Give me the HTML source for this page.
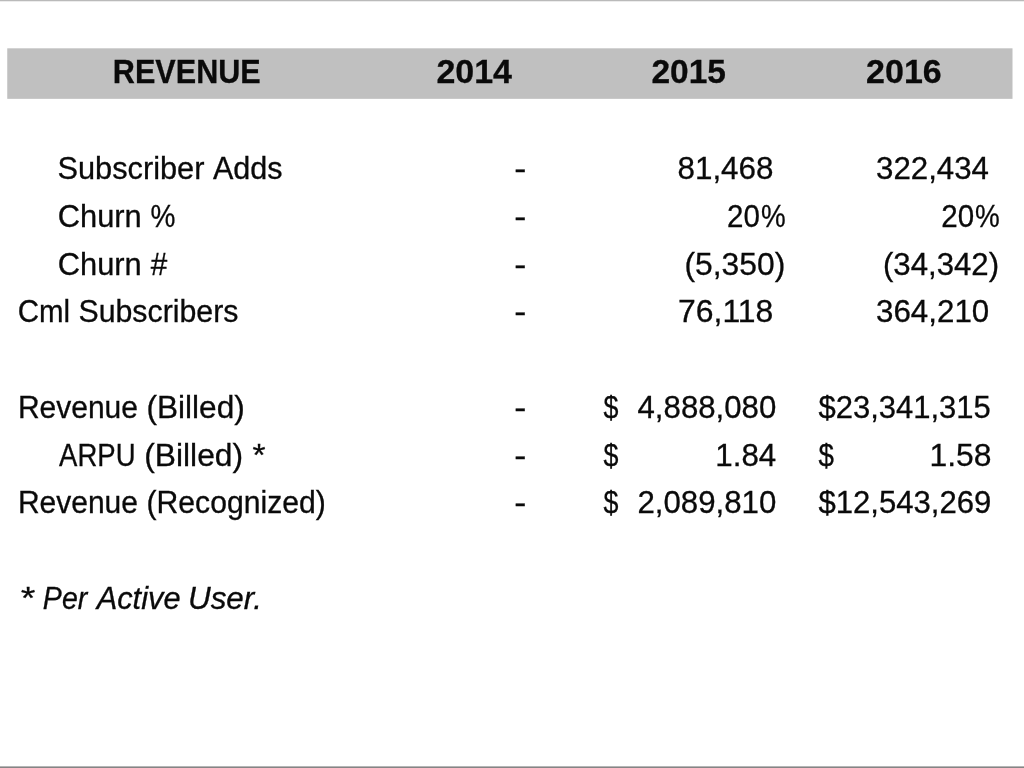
<!DOCTYPE html>
<html lang="en"><head><meta charset="utf-8"><title>Revenue</title>
<style>
html,body{margin:0;padding:0;background:#fff}
body{width:1024px;height:768px;position:relative;overflow:hidden;font-family:"Liberation Sans", sans-serif;color:#0d0d0d}
.top{position:absolute;left:0;top:0;width:1024px;height:2px;background:linear-gradient(#bababa,#bababa 50%,#ececec 50%,#ececec)}
.bot{position:absolute;left:0;top:766px;width:1024px;height:2px;background:linear-gradient(#b5b5b5,#b5b5b5 50%,#858585 50%,#858585)}
.band{position:absolute;left:0;top:0;width:1024px;height:768px}
.t{position:absolute;white-space:pre;transform-origin:0 0;color:#0a0a0a;-webkit-text-stroke:0.3px #0a0a0a}
.txt{position:absolute;left:0;top:0;width:1024px;height:768px}
.h{font:normal bold 34px/40px "Liberation Sans", sans-serif}
.l{font:normal normal 31px/40px "Liberation Sans", sans-serif}
.n{font:normal normal 31.5px/40px "Liberation Sans", sans-serif}
.i{font:italic normal 31px/40px "Liberation Sans", sans-serif}
</style></head><body>
<div class="top"></div>
<svg class="band" width="1024" height="768" viewBox="0 0 1024 768"><rect x="7.25" y="48.3" width="1005.25" height="50.55" fill="#c0c0c0"/></svg>
<div class="txt">
<span class="t h" style="left:112px;top:51px;transform:translateX(0.85px) scaleX(0.8995)">REVENUE</span>
<span class="t h" style="left:436px;top:51px;transform:translateX(0.4px) scaleX(0.9977)">2014</span>
<span class="t h" style="left:651px;top:51px;transform:translateX(0.42px) scaleX(0.9844)">2015</span>
<span class="t h" style="left:866px;top:51px;transform:translateX(0.1px) scaleX(0.9993)">2016</span>
<span class="t l" style="left:57px;top:149px;transform:translateX(0.39px) scaleX(0.9924)">Subscriber</span>
<span class="t l" style="left:212px;top:149px;transform:translateX(0.95px) scaleX(0.9852)">Adds</span>
<span class="t l" style="left:57px;top:197px;transform:translateX(0.82px) scaleX(0.994)">Churn</span>
<span class="t l" style="left:150px;top:197px;transform:translateX(0.49px) scaleX(0.903)">%</span>
<span class="t l" style="left:57px;top:245px;transform:translateX(0.82px) scaleX(0.994)">Churn</span>
<span class="t l" style="left:150px;top:245px;transform:translateX(0.82px) scaleX(0.9578)">#</span>
<span class="t l" style="left:17px;top:292px;transform:translateX(0.63px) scaleX(0.9504)">Cml</span>
<span class="t l" style="left:78px;top:292px;transform:translateX(0.41px) scaleX(0.9779)">Subscribers</span>
<span class="t l" style="left:17px;top:388px;transform:translateX(0.98px) scaleX(0.9664)">Revenue</span>
<span class="t l" style="left:146px;top:388px;transform:translateX(0.47px) scaleX(1.019)">(Billed)</span>
<span class="t l" style="left:59px;top:436px;transform:translateX(0.11px) scaleX(0.8871)">ARPU</span>
<span class="t l" style="left:144px;top:436px;transform:translateX(0.21px) scaleX(1.0244)">(Billed)</span>
<span class="t l" style="left:252px;top:436px;transform:translateX(0.51px) scaleX(1.0778)">*</span>
<span class="t l" style="left:17px;top:483px;transform:translateX(0.98px) scaleX(0.9664)">Revenue</span>
<span class="t l" style="left:146px;top:483px;transform:translateX(0.55px) scaleX(0.972)">(Recognized)</span>
<span class="t i" style="left:19px;top:579px;transform:translateX(0.3px) scaleX(1.2035)">*</span>
<span class="t i" style="left:42px;top:579px;transform:translateX(0.86px) scaleX(0.9198)">Per</span>
<span class="t i" style="left:96px;top:579px;transform:translateX(0.68px) scaleX(0.9929)">Active</span>
<span class="t i" style="left:187px;top:579px;transform:translateX(0.96px) scaleX(1.0136)">User.</span>
<span class="t n" style="left:514px;top:148px;transform:translateX(0.31px) scaleX(1.1473)">-</span>
<span class="t n" style="left:514px;top:196px;transform:translateX(0.31px) scaleX(1.1473)">-</span>
<span class="t n" style="left:514px;top:244px;transform:translateX(0.31px) scaleX(1.1473)">-</span>
<span class="t n" style="left:514px;top:291px;transform:translateX(0.31px) scaleX(1.1473)">-</span>
<span class="t n" style="left:514px;top:387px;transform:translateX(0.31px) scaleX(1.1473)">-</span>
<span class="t n" style="left:514px;top:435px;transform:translateX(0.31px) scaleX(1.1473)">-</span>
<span class="t n" style="left:514px;top:482px;transform:translateX(0.31px) scaleX(1.1473)">-</span>
<span class="t n" style="left:677px;top:148px;transform:translateX(0.5px) scaleX(0.996)">81,468</span>
<span class="t n" style="left:727px;top:196px;transform:translateX(0.11px) scaleX(0.9376)">20</span>
<span class="t n" style="left:760px;top:196px;transform:translateX(0.91px) scaleX(0.8813)">%</span>
<span class="t n" style="left:684px;top:244px;transform:translateX(0.41px) scaleX(1.0105)">(5,350)</span>
<span class="t n" style="left:678px;top:291px;transform:translateX(0.09px) scaleX(1.013)">76,118</span>
<span class="t n" style="left:876px;top:148px;transform:translateX(0.0px) scaleX(0.992)">322,434</span>
<span class="t n" style="left:941px;top:196px;transform:translateX(0.21px) scaleX(0.9376)">20</span>
<span class="t n" style="left:975px;top:196px;transform:translateX(0.01px) scaleX(0.8833)">%</span>
<span class="t n" style="left:882px;top:244px;transform:translateX(0.95px) scaleX(0.9899)">(34,342)</span>
<span class="t n" style="left:875px;top:291px;transform:translateX(0.99px) scaleX(0.9945)">364,210</span>
<span class="t n" style="left:603px;top:387px;transform:translateX(0.43px) scaleX(0.8514)">$</span>
<span class="t n" style="left:603px;top:435px;transform:translateX(0.43px) scaleX(0.8514)">$</span>
<span class="t n" style="left:603px;top:482px;transform:translateX(0.43px) scaleX(0.8514)">$</span>
<span class="t n" style="left:637px;top:387px;transform:translateX(0.52px) scaleX(0.9905)">4,888,080</span>
<span class="t n" style="left:715px;top:435px;transform:translateX(0.26px) scaleX(0.9946)">1.84</span>
<span class="t n" style="left:637px;top:482px;transform:translateX(0.39px) scaleX(0.9915)">2,089,810</span>
<span class="t n" style="left:818px;top:387px;transform:translateX(0.38px) scaleX(0.9846)">$23,341,315</span>
<span class="t n" style="left:818px;top:435px;transform:translateX(0.42px) scaleX(0.8813)">$</span>
<span class="t n" style="left:929px;top:435px;transform:translateX(0.47px) scaleX(1.0107)">1.58</span>
<span class="t n" style="left:818px;top:482px;transform:translateX(0.38px) scaleX(0.9874)">$12,543,269</span>
</div>
<div class="bot"></div>
</body></html>
